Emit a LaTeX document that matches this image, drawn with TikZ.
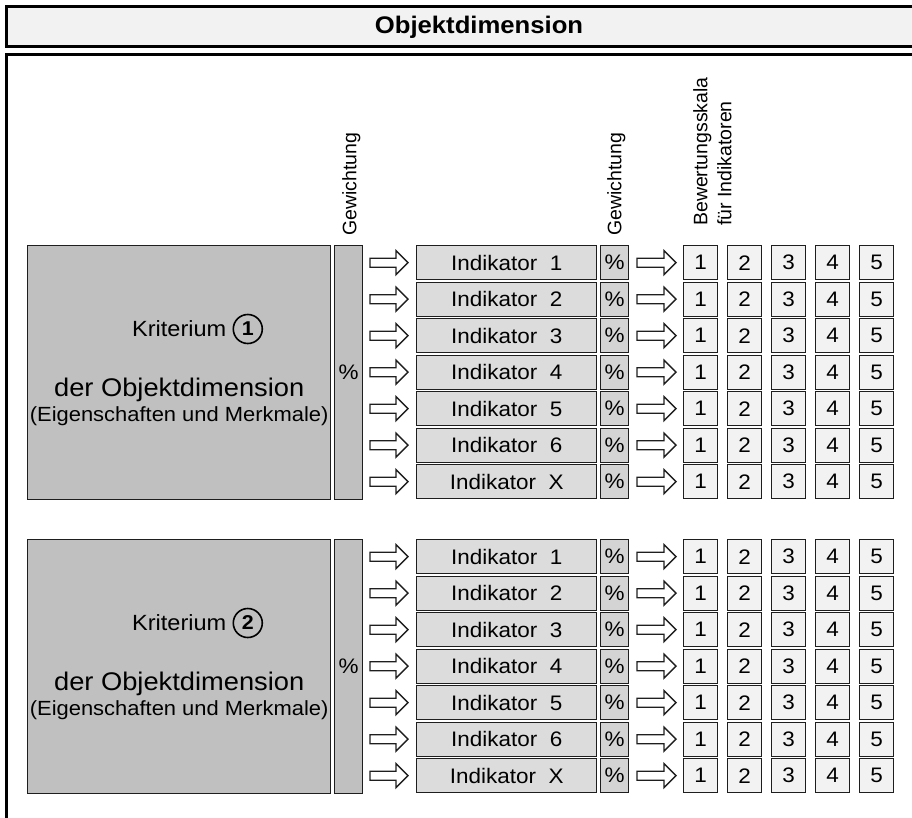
\documentclass[tikz,border=0pt]{standalone}
\usepackage{fontspec}
\setmainfont{Liberation Sans}[FakeStretch=1.07]
\newfontfamily\uprightlabel{Liberation Sans}
\usetikzlibrary{calc}

\definecolor{critfill}{HTML}{C0C0C0}
\definecolor{indfill}{HTML}{DCDCDC}
\definecolor{pctfill}{HTML}{D4D4D4}
\definecolor{scalefill}{HTML}{F2F2F2}
\definecolor{titlefill}{HTML}{F2F2F2}
\definecolor{edgecol}{HTML}{1E1E1E}

\tikzset{
  cell/.style={draw=edgecol, line width=1.4pt, inner sep=0pt, anchor=north west,
    minimum height=34pt, font=\fontsize{21}{25}\selectfont},
  critbox/.style={cell, fill=critfill, minimum width=303pt, minimum height=254pt},
  wcolbox/.style={cell, fill=critfill, minimum width=28pt, minimum height=254pt},
  indbox/.style={cell, fill=indfill, minimum width=180pt},
  pctbox/.style={cell, fill=pctfill, minimum width=28pt},
  scalecell/.style={cell, fill=scalefill, minimum width=34pt},
  critline/.style={inner sep=0pt, font=\fontsize{22}{26}\selectfont},
  critbig/.style={inner sep=0pt, font=\fontsize{25.5}{30}\selectfont},
  critnote/.style={inner sep=0pt, font=\fontsize{20.5}{24}\selectfont},
  numcircle/.style={circle, draw=black, line width=1.6pt, minimum size=29pt,
    inner sep=0pt, anchor=west, font=\fontsize{20}{20}\selectfont\bfseries},
  headlabel/.style={rotate=90, anchor=north west, inner sep=0pt, align=left,
    font=\uprightlabel\fontsize{19.5}{24}\selectfont},
  frameline/.style={line width=3.2pt, draw=black},
  flowarrow/.style={draw=edgecol, line width=1.4pt, fill=white, line join=miter},
}

% block arrow ending #2 pt left of node #1, #3 pt long
\newcommand\blockarrow[3]{%
  \draw[flowarrow] let \p1=(#1.west) in
    (\x1-#2pt-#3pt,\y1+4.5pt) -- (\x1-#2pt-12pt,\y1+4.5pt) -- (\x1-#2pt-12pt,\y1+12pt)
    -- (\x1-#2pt,\y1) -- (\x1-#2pt-12pt,\y1-12pt) -- (\x1-#2pt-12pt,\y1-4.5pt)
    -- (\x1-#2pt-#3pt,\y1-4.5pt) -- cycle;}

\begin{document}
\begin{tikzpicture}[x=1pt,y=-1pt]
\useasboundingbox (0,0) rectangle (912,817);
\clip (0,0) rectangle (912,817);

% title bar and outer frame
\draw[frameline, fill=titlefill] (6.5,6.5) rectangle (930,46.5);
\node[font=\fontsize{24}{28}\selectfont\bfseries] (title) at (479,27) {Objektdimension};
\draw[frameline] (6.5,830) -- (6.5,54.5) -- (930,54.5);

% column headings
\node[headlabel] (hw1) at (342,236) {Gewichtung};
\node[headlabel] (hw2) at (607,236) {Gewichtung};
\node[headlabel] (hs) at (693,226) {Bewertungsskala\\f\"ur Indikatoren};

\foreach \g/\top in {1/245, 2/539} {
  \node[critbox] (crit\g) at (27,\top) {};
  \node[wcolbox] (wcol\g) at (334,\top) {\%};
  \node[critline] (kt\g) at ($(crit\g.north)+(0,84)$) {Kriterium};
  \node[numcircle] (kn\g) at ($(kt\g.east)+(6,0)$) {\g};
  \node[critbig] (ko\g) at ($(crit\g.north)+(0,145)$) {der Objektdimension};
  \node[critnote] (ke\g) at ($(crit\g.north)+(0,171)$) {(Eigenschaften und Merkmale)};
  \foreach \r/\lab in {0/1,1/2,2/3,3/4,4/5,5/6,6/X} {
    \pgfmathsetmacro\rowy{\top+36.5*\r}
    \node[indbox] (ind-\g-\r) at (416,\rowy) {Indikator\ \ \lab};
    \node[pctbox] (pct-\g-\r) at (600,\rowy) {\%};
    \foreach \s in {1,...,5} {
      \node[scalecell] (sc-\g-\r-\s) at ({683+44*(\s-1)},\rowy) {\s};
    }
    \blockarrow{ind-\g-\r}{8}{38}
    \blockarrow{sc-\g-\r-1}{7}{39}
  }
}
\end{tikzpicture}
\end{document}
